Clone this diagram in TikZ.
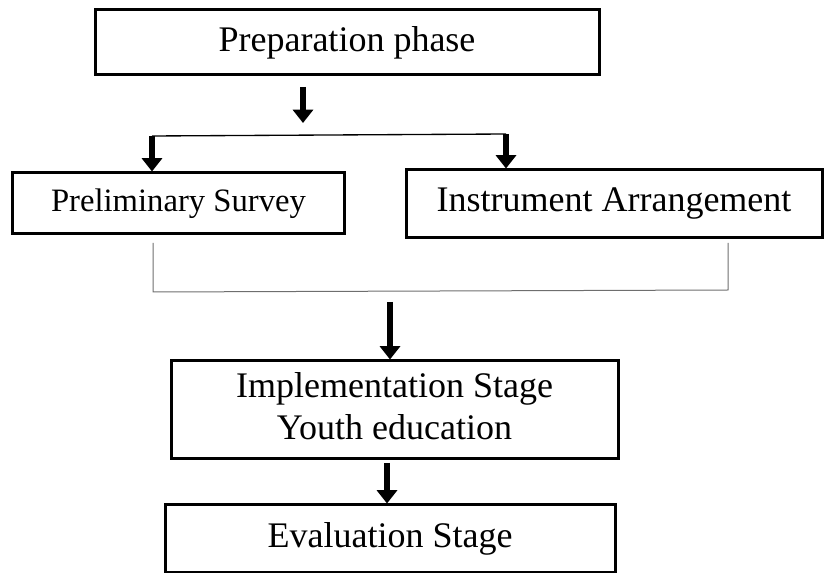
\documentclass[tikz,border=0pt]{standalone}
\usepackage{xcolor,tikz,fontspec}
\setmainfont{Liberation Serif}
\usetikzlibrary{arrows.meta,positioning,calc}
\definecolor{ink}{RGB}{0,0,0}
\definecolor{rule}{RGB}{110,110,110}
\tikzset{
  stage/.style={draw=ink,line width=2.25pt,rectangle,inner sep=0pt,align=center,
    font=\fontsize{27}{31.5}\selectfont},
  blk/.style={-{Triangle[length=10pt,width=15pt]},line width=4.6pt,draw=ink},
  fork/.style={draw=ink,line width=1pt},
  merge/.style={draw=rule,line width=0.75pt}
}

\begin{document}
\begin{tikzpicture}[x=0.75pt,y=-0.75pt]
  \useasboundingbox (0,0) rectangle (825,573);
  \node[stage,minimum width=378pt,minimum height=48.75pt] (prep) at (347,42.5) {Preparation phase};
  \node[stage,minimum width=249pt,minimum height=45.75pt,font=\fontsize{24.5}{28}\selectfont] (survey) at (178.5,203.5) {Preliminary Survey};
  \node[stage,minimum width=312pt,minimum height=51pt] (instr) at (614,204) {Instrument Arrangement};
  \node[stage,minimum width=335.25pt,minimum height=73.5pt] (impl) at (394.5,410)
    {\raisebox{7pt}{\begin{tabular}{@{}c@{}}Implementation Stage\\Youth education\end{tabular}}};
  \node[stage,minimum width=337.5pt,minimum height=50.25pt] (eval) at (390,538.5) {Evaluation Stage};
  % split after preparation
  \coordinate (p1) at (303,87);
  \coordinate (p2) at (303,123);
  \coordinate (sl) at (152,136);
  \coordinate (sr) at (506,134);
  \draw[blk] (p1)--(p2);
  \draw[fork] (sl)--(sr);
  \draw[blk] (sl)--(sl|-survey.north);
  \draw[blk] (sr)--(sr|-instr.north);
  % merge into implementation
  \coordinate (jl) at (153,243);
  \coordinate (jr) at (728,243);
  \coordinate (jl2) at (153,292);
  \coordinate (jr2) at (728,290);
  \draw[merge] (jl)--(jl2)--(jr2)--(jr);
  \coordinate (m1) at (390,302);
  \draw[blk] (m1)--(m1|-impl.north);
  \coordinate (e1) at (387,463);
  \draw[blk] (e1)--(e1|-eval.north);
\end{tikzpicture}
\end{document}
